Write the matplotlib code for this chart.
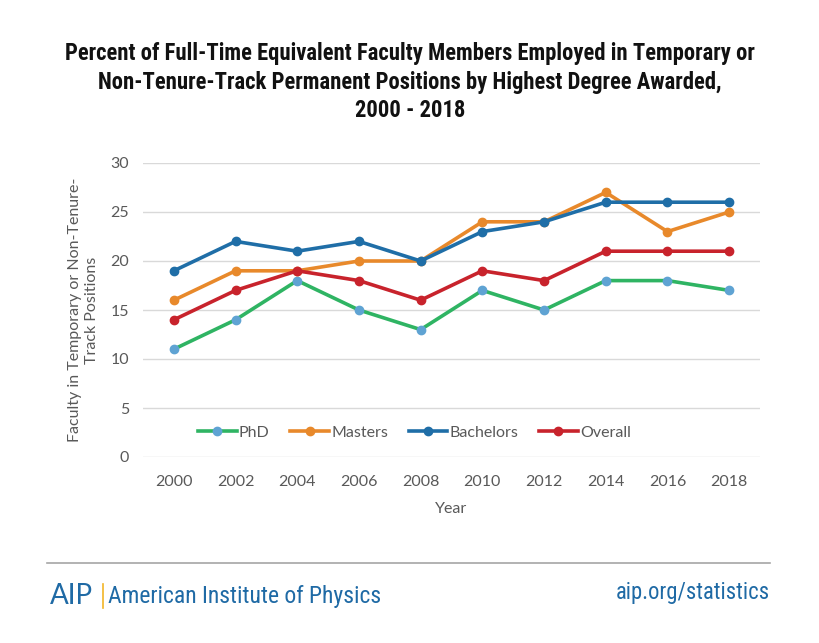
import numpy as np
import matplotlib.pyplot as plt
from matplotlib.lines import Line2D
from matplotlib import font_manager

years = ["2000", "2002", "2004", "2006", "2008", "2010", "2012", "2014", "2016", "2018"]
phd = [11, 14, 18, 15, 13, 17, 15, 18, 18, 17]
masters = [16, 19, 19, 20, 20, 24, 24, 27, 23, 25]
bachelors = [19, 22, 21, 22, 20, 23, 24, 26, 26, 26]
overall = [14, 17, 19, 18, 16, 19, 18, 21, 21, 21]

series = [
    ("PhD", phd, "#2fb463", "#5fa3d3"),
    ("Masters", masters, "#e8892b", "#e8892b"),
    ("Bachelors", bachelors, "#1f6ea7", "#1f6ea7"),
    ("Overall", overall, "#c8232c", "#c8232c"),
]

# pick a narrow face for the title / footer if one is installed
installed = {f.name for f in font_manager.fontManager.ttflist}
narrow = None
for cand in ["Liberation Sans Narrow", "DejaVu Sans Condensed", "Roboto Condensed",
             "Open Sans Condensed", "Noto Sans Condensed"]:
    if cand in installed:
        narrow = cand
        break
scale = 1.0
if narrow is None:
    narrow = "Liberation Sans"
    scale = 0.8

body_font = ["Lato", "DejaVu Sans"]
title_font = [narrow, "DejaVu Sans"]
grey = "#595959"

fig = plt.figure(figsize=(8.2, 6.43), dpi=100)
ax = fig.add_axes([143 / 820, 1 - 457 / 643, 617 / 820, 294 / 643])

x = np.arange(len(years))
for name, vals, lc, mc in series:
    ax.plot(x, vals, color=lc, lw=2.6, marker="o", ms=6,
            markerfacecolor=mc, markeredgecolor=mc, label=name, zorder=3)

ax.set_xlim(-0.5, len(years) - 0.5)
ax.set_ylim(0, 30)
ax.set_yticks(range(0, 31, 5))
ax.set_xticks(x)
ax.set_xticklabels(years)
ax.yaxis.grid(True, color="#d9d9d9", lw=1)
ax.set_axisbelow(True)
for s in ax.spines.values():
    s.set_visible(False)
ax.tick_params(length=0, labelsize=11.5, labelcolor=grey)
ax.tick_params(axis="x", pad=13)
ax.tick_params(axis="y", pad=10)
for lab in ax.get_xticklabels() + ax.get_yticklabels():
    lab.set_family(body_font)

ax.set_xlabel("Year", fontsize=11.5, color=grey, family=body_font, labelpad=9)
ax.set_ylabel("Faculty in Temporary or Non-Tenure-\nTrack Positions",
              fontsize=11.5, color=grey, family=body_font, labelpad=8,
              linespacing=1.3)

leg = ax.legend(loc="center", bbox_to_anchor=(0.44, 0.082), ncol=4, frameon=False,
                prop={"family": body_font, "size": 11.5}, handlelength=2.4,
                columnspacing=1.3, handletextpad=0.15)
for t in leg.get_texts():
    t.set_color(grey)

fig.text(0.5, 1 - 82 / 643,
         "Percent of Full-Time Equivalent Faculty Members Employed in Temporary or\n"
         "Non-Tenure-Track Permanent Positions by Highest Degree Awarded,\n"
         "2000 - 2018",
         ha="center", va="center", fontsize=16.3 * scale, fontweight="bold",
         family=title_font, fontstretch="condensed", linespacing=1.3,
         color="#111111")

# footer
blue = "#1f6aa5"
fig.add_artist(Line2D([47 / 820, 770 / 820], [1 - 563 / 643, 1 - 563 / 643],
                      color="#a6a6a6", lw=1.2))
fig.text(50 / 820, 1 - 596 / 643, "AIP", fontsize=20, color=blue,
         family=body_font, va="center", ha="left")
fig.add_artist(Line2D([103 / 820, 103 / 820], [1 - 584 / 643, 1 - 608 / 643],
                      color="#f2b526", lw=1.2))
fig.text(108 / 820, 1 - 596 / 643, "American Institute of Physics",
         fontsize=17 * scale, color=blue, family=title_font,
         fontstretch="condensed", va="center", ha="left")
fig.text(770 / 820, 1 - 593 / 643, "aip.org/statistics", fontsize=16.3 * scale,
         color=blue, family=title_font, fontstretch="condensed",
         va="center", ha="right")

fig.savefig("out.png", dpi=100, facecolor="white")
